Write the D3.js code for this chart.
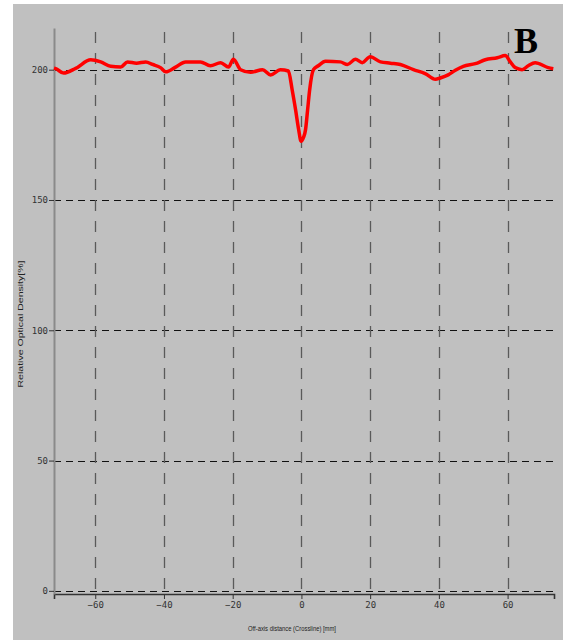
<!DOCTYPE html>
<html>
<head>
<meta charset="utf-8">
<script src="https://cdn.jsdelivr.net/npm/d3@7"></script>
<style>
  body { margin: 0; background: #fff; }
  svg { display: block; }
</style>
</head>
<body>
<svg id="chart"></svg>
<script>
// profile: off-axis distance (mm) and relative optical density (%)
const distance = [-72, -71.5, -69.2, -65.7, -61.3, -58.4, -55.5, -52.6, -50.6, -48, -45.3, -43.3, -41, -39.5,
  -36.6, -33.7, -29.4, -26.5, -23.5, -21.2, -19.8, -17.7, -14.8, -11.3, -9, -6.1, -3.8, -2.7, -1.7, -0.8,
  -0.1, 0.6, 1.2, 1.8, 2.4, 3.5, 4.9, 7, 11.3, 13.4, 15.7, 17.7, 20, 23, 25.9, 28.8, 32.6, 36, 39, 40.4,
  42.7, 44.8, 47.1, 50.6, 53.5, 57, 59.3, 60.8, 62.2, 64.2, 66, 68, 71.8, 73.3];
const density = [200.6, 200.4, 198.7, 200.5, 203.8, 203, 201.3, 201, 203, 202.5, 203, 202, 200.8, 199.2,
  201, 203, 203, 201.5, 202.7, 201, 204, 200, 199, 200, 198, 200, 199.5, 192.3, 184.6, 177,
  172.5, 174, 177, 184.6, 192.3, 200, 201.5, 203.2, 203, 202, 204, 202.7, 205, 203, 202.5, 202, 200, 198.5, 196.3, 196.8,
  198, 199.8, 201.3, 202.3, 203.8, 204.6, 205.4, 203, 200.8, 200, 201.5, 202.7, 200.8, 200.4];

const xTicks = [-60, -40, -20, 0, 20, 40, 60];
const yTicks = [0, 50, 100, 150, 200];
const xTitle = "Off-axis distance (Crossline) [mm]";
const yTitle = "Relative Optical Density[%]";
const panelLabel = "B";

const width = 573, height = 642;
const svg = d3.select("#chart").attr("width", width).attr("height", height);

// grey panel
svg.append("rect")
  .attr("x", 13).attr("y", 4)
  .attr("width", 550).attr("height", 636)
  .attr("fill", "#c0c0c0");

const x = d3.scaleLinear().domain([-72, 73.5]).range([54, 554]);
const y = d3.scaleLinear().domain([-1.2, 216]).range([594, 28]);

// horizontal grid, black short dashes
svg.append("g")
  .selectAll("line")
  .data(yTicks).enter()
  .append("line")
  .attr("x1", x(-72)).attr("x2", x(73.5))
  .attr("y1", d => Math.round(y(d)) + 0.5)
  .attr("y2", d => Math.round(y(d)) + 0.5)
  .attr("stroke", "#111")
  .attr("stroke-width", 1)
  .attr("stroke-dasharray", "7,5");

// vertical grid, grey long dashes
svg.append("g")
  .selectAll("line")
  .data(xTicks).enter()
  .append("line")
  .attr("x1", d => Math.round(x(d)) + 0.5)
  .attr("x2", d => Math.round(x(d)) + 0.5)
  .attr("y1", y(216) + 4).attr("y2", y(-1.2))
  .attr("stroke", "#5a5a5a")
  .attr("stroke-width", 1.3)
  .attr("stroke-dasharray", "11,10");

// x axis
const xAxis = svg.append("g")
  .attr("transform", "translate(0," + y(-1.2) + ")")
  .call(d3.axisBottom(x).tickValues(xTicks).tickSize(5).tickPadding(3).tickFormat(d3.format("d")));
xAxis.select(".domain").attr("stroke", "#333").attr("stroke-width", 1.6);
xAxis.selectAll(".tick line").attr("stroke", "#333");
xAxis.selectAll("text")
  .attr("font-family", "DejaVu Sans Mono")
  .attr("font-size", 9)
  .attr("fill", "#333");

// y axis
const yAxis = svg.append("g")
  .attr("transform", "translate(" + x(-72) + ",0)")
  .call(d3.axisLeft(y).tickValues(yTicks).tickSize(5).tickPadding(1).tickSizeOuter(0));
yAxis.select(".domain").attr("stroke", "#8a8a8a").attr("stroke-width", 2);
yAxis.selectAll(".tick line").attr("stroke", "#333");
yAxis.selectAll("text")
  .attr("font-family", "DejaVu Sans Mono")
  .attr("font-size", 9)
  .attr("fill", "#333");

// axis titles
svg.append("text")
  .attr("x", 292).attr("y", 631)
  .attr("text-anchor", "middle")
  .attr("font-family", "Liberation Sans")
  .attr("font-size", 7)
  .attr("textLength", 88)
  .attr("lengthAdjust", "spacingAndGlyphs")
  .attr("fill", "#222")
  .text(xTitle);

svg.append("text")
  .attr("transform", "translate(23,324) rotate(-90)")
  .attr("text-anchor", "middle")
  .attr("font-family", "Liberation Sans")
  .attr("font-size", 8)
  .attr("textLength", 127)
  .attr("lengthAdjust", "spacingAndGlyphs")
  .attr("fill", "#222")
  .text(yTitle);

// profile
const pts = distance.map((d, i) => [d, density[i]]);
const line = d3.line().x(d => x(d[0])).y(d => y(d[1])).curve(d3.curveMonotoneX);
svg.append("path")
  .datum(pts)
  .attr("d", line)
  .attr("fill", "none")
  .attr("stroke", "#ff0000")
  .attr("stroke-width", 3.5)
  .attr("stroke-linejoin", "round");

// panel letter
svg.append("text")
  .attr("x", 526).attr("y", 53)
  .attr("text-anchor", "middle")
  .attr("font-family", "Liberation Serif")
  .attr("font-weight", "bold")
  .attr("font-size", 36)
  .attr("fill", "#000")
  .text(panelLabel);
</script>
</body>
</html>
